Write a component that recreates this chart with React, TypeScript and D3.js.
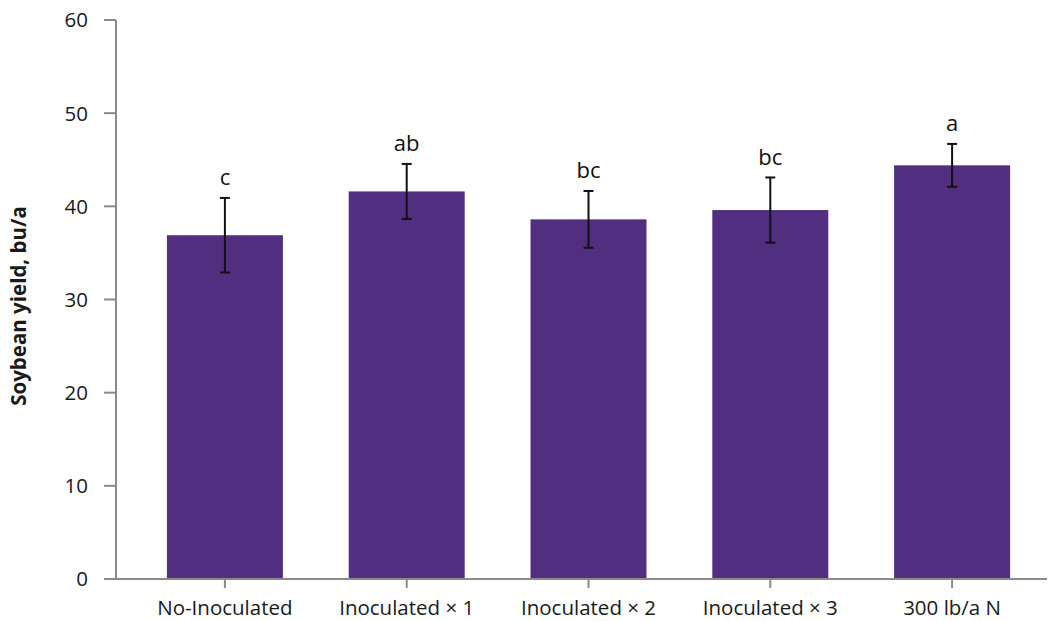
import React from "react";
import * as d3 from "d3";

const categories = ["No-Inoculated", "Inoculated × 1", "Inoculated × 2", "Inoculated × 3", "300 lb/a N"];
const yields = [36.9, 41.6, 38.6, 39.6, 44.4];
const errors = [4.0, 2.95, 3.05, 3.5, 2.3];
const letters = ["c", "ab", "bc", "bc", "a"];
const yTicks = [0, 10, 20, 30, 40, 50, 60];

const W = 1050;
const H = 621;
const FONT = "'Open Sans', sans-serif";

export default function App() {
  const x = d3.scaleBand<string>().domain(categories).range([134, 1043]).paddingInner(0.362).paddingOuter(0.181);
  const y = d3.scaleLinear().domain([0, 60]).range([579, 20]);
  const axisColor = "#8a8a8a";
  const barColor = "#512E7F";
  return (
    <svg width={W} height={H} style={{ position: "absolute", left: 0, top: 0 }}>
      {categories.map((c, i) => (
        <rect key={c} x={x(c)} y={y(yields[i])} width={x.bandwidth()} height={y(0) - y(yields[i])} fill={barColor} />
      ))}
      {categories.map((c, i) => {
        const cx = (x(c) as number) + x.bandwidth() / 2;
        const top = y(yields[i] + errors[i]);
        const bot = y(yields[i] - errors[i]);
        return (
          <g key={"e" + c} stroke="#111" strokeWidth={2}>
            <line x1={cx} x2={cx} y1={top} y2={bot} />
            <line x1={cx - 5} x2={cx + 5} y1={top} y2={top} />
            <line x1={cx - 5} x2={cx + 5} y1={bot} y2={bot} />
          </g>
        );
      })}
      {categories.map((c, i) => (
        <text key={"l" + c} x={(x(c) as number) + x.bandwidth() / 2} y={y(yields[i] + errors[i]) - 12.5}
          textAnchor="middle" fontFamily={FONT} fontSize={22} fill="#111">{letters[i]}</text>
      ))}
      <line x1={116} x2={116} y1={y(60)} y2={y(0)} stroke={axisColor} strokeWidth={2} />
      {yTicks.map(t => (
        <g key={"t" + t}>
          <line x1={104} x2={116} y1={y(t)} y2={y(t)} stroke={axisColor} strokeWidth={2} />
          <text x={88} y={y(t)} dy="0.36em" textAnchor="end" fontFamily={FONT} fontSize={20.5} fill="#1a1a1a">{t}</text>
        </g>
      ))}
      <line x1={115} x2={1047} y1={y(0)} y2={y(0)} stroke={axisColor} strokeWidth={2} />
      {categories.map(c => {
        const cx = (x(c) as number) + x.bandwidth() / 2;
        return (
          <g key={"x" + c}>
            <line x1={cx} x2={cx} y1={y(0)} y2={y(0) + 9} stroke={axisColor} strokeWidth={2} />
            <text x={cx} y={614.5} textAnchor="middle" fontFamily={FONT} fontSize={20.5} fill="#1a1a1a">{c}</text>
          </g>
        );
      })}
      <text transform={`translate(26,306) rotate(-90)`} textAnchor="middle" fontFamily={FONT} fontWeight="bold" fontSize={20.5} fill="#1a1a1a">Soybean yield, bu/a</text>
    </svg>
  );
}
